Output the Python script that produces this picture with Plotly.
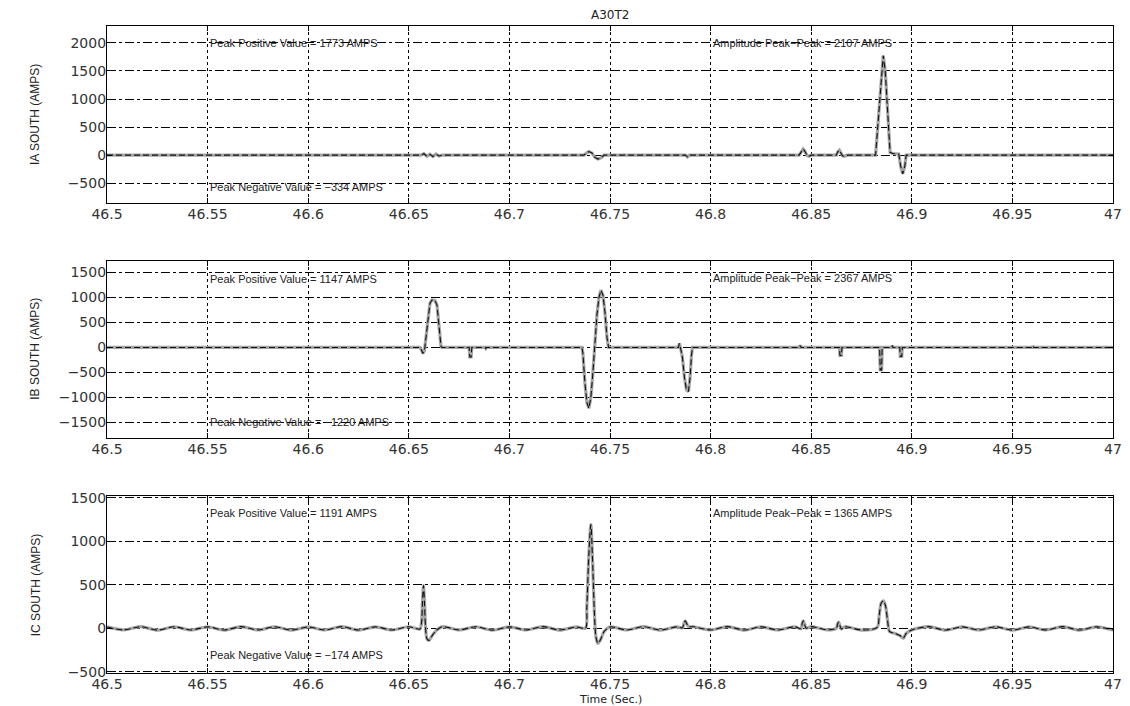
import plotly.graph_objects as go

# ---------------- data ----------------
x_ticks = [46.5, 46.55, 46.6, 46.65, 46.7, 46.75, 46.8, 46.85, 46.9, 46.95, 47.0]
x_tick_labels = ["46.5", "46.55", "46.6", "46.65", "46.7", "46.75", "46.8", "46.85", "46.9", "46.95", "47"]

ia_ticks = [-500, 0, 500, 1000, 1500, 2000]
ib_ticks = [-1500, -1000, -500, 0, 500, 1000, 1500]
ic_ticks = [-500, 0, 500, 1000, 1500]

ia_t = [46.5000, 46.6560, 46.6575, 46.6590, 46.6605, 46.6620, 46.6635, 46.6650, 46.6665,
        46.7370, 46.7385, 46.7395, 46.7410, 46.7425, 46.7440, 46.7455, 46.7470,
        46.7875, 46.7885, 46.7895,
        46.8440, 46.8450, 46.8460, 46.8470, 46.8480, 46.8490, 46.8500,
        46.8625, 46.8632, 46.8640, 46.8648, 46.8655, 46.8665, 46.8680,
        46.8820, 46.8835, 46.8848, 46.8858, 46.8868, 46.8880, 46.8892, 46.8905,
        46.8935, 46.8945, 46.8955, 46.8965, 46.8972, 47.0000]
ia_v = [0, 0, 25, -20, 15, -25, 20, -15, 0,
        0, 40, 65, 40, -40, -70, -50, 0,
        0, -30, 0,
        0, 60, 110, 60, -10, -20, 0,
        0, 60, 90, 40, -10, -20, 0,
        0, 700, 1450, 1773, 1500, 700, 50, 30,
        20, -200, -334, -200, 0, 0]

ib_t = [46.5000, 46.5200, 46.5205, 46.5210,
        46.6555, 46.6562, 46.6570, 46.6578, 46.6585, 46.6595, 46.6605, 46.6615, 46.6630,
        46.6640, 46.6650, 46.6660, 46.6665,
        46.6800, 46.6803, 46.6810, 46.6813, 46.6880, 46.6883, 46.6887,
        46.7360, 46.7365, 46.7375, 46.7385, 46.7395, 46.7405, 46.7415, 46.7425, 46.7435,
        46.7445, 46.7455, 46.7465, 46.7475, 46.7485, 46.7493,
        46.7840, 46.7845, 46.7850, 46.7860, 46.7870, 46.7880, 46.7890, 46.7898, 46.7905, 46.7910,
        46.8440, 46.8445, 46.8450,
        46.8640, 46.8643, 46.8650, 46.8653,
        46.8840, 46.8843, 46.8850, 46.8853,
        46.8900, 46.8903, 46.8906,
        46.8940, 46.8943, 46.8950, 46.8953,
        46.9600, 46.9603, 46.9606, 47.0000]
ib_v = [0, 0, -15, 0,
        0, -40, -120, -60, 200, 600, 880, 950, 940,
        850, 400, 20, 0,
        0, -190, -190, 0, 0, -20, 0,
        0, -100, -700, -1100, -1220, -1000, -500, 100, 650,
        1000, 1147, 1050, 700, 200, 0,
        0, 80, 0, -200, -600, -850, -880, -600, -150, 0,
        0, 40, 0,
        0, -160, -160, 0,
        0, -450, -450, 0,
        0, 40, 0,
        0, -180, -180, 0,
        0, 30, 0, 0]

ic_t = [46.5000, 46.5083, 46.5167, 46.5250, 46.5333, 46.5417, 46.5500, 46.5583, 46.5667,
        46.5750, 46.5833, 46.5917, 46.6000, 46.6083, 46.6167, 46.6250, 46.6333, 46.6417,
        46.6500, 46.6555, 46.6563, 46.6568, 46.6573, 46.6578, 46.6583, 46.6590, 46.6600,
        46.6615, 46.6635, 46.6667, 46.6750, 46.6833, 46.6917, 46.7000, 46.7083, 46.7167,
        46.7250, 46.7333, 46.7378, 46.7385, 46.7395, 46.7405, 46.7413, 46.7422, 46.7430,
        46.7440, 46.7455, 46.7470, 46.7500, 46.7583, 46.7667, 46.7750, 46.7833, 46.7860,
        46.7868, 46.7874, 46.7882, 46.7890, 46.7917, 46.8000, 46.8083, 46.8167, 46.8250,
        46.8333, 46.8417, 46.8450, 46.8455, 46.8461, 46.8468, 46.8475, 46.8500, 46.8583,
        46.8625, 46.8631, 46.8636, 46.8642, 46.8650, 46.8667, 46.8750, 46.8828, 46.8838,
        46.8848, 46.8859, 46.8870, 46.8880, 46.8890, 46.8917, 46.8945, 46.8958, 46.8972,
        46.9000, 46.9083, 46.9167, 46.9250, 46.9333, 46.9417, 46.9500, 46.9583, 46.9667,
        46.9750, 46.9833, 46.9917, 47.0000]
ic_v = [15, -20, 18, -22, 17, -20, 16, -21, 18,
        -20, 17, -22, 15, -20, 18, -21, 16, -20,
        17, -10, 60, 300, 490, 300, 20, -120, -140,
        -90, -30, 18, -20, 17, -22, 16, -20, 18,
        -21, 15, 0, 250, 850, 1191, 800, 200, -100,
        -174, -120, -40, 15, -20, 18, -21, 16, 5,
        60, 85, 50, 20, 17, -20, 18, -21, 16,
        -20, 17, -5, 55, 85, 40, 0, 18, -20,
        0, 50, 70, 35, -10, 17, -21, 10, 150,
        290, 316, 250, 80, -40, -60, -90, -114, -60,
        -20, 18, -21, 16, -20, 17, -22, 15, -20,
        18, -21, 16, -20]

peak_pos = [1773, 1147, 1191]
peak_neg = [-334, -1220, -174]
peak_pp = [2107, 2367, 1365]
y_labels = ["IA SOUTH (AMPS)", "IB SOUTH (AMPS)", "IC SOUTH (AMPS)"]
pos_text_y = [2000, 1380, 1320]
neg_text_y = [-560, -1500, -305]
pp_text_y = [2000, 1390, 1320]

# ---------------- figure ----------------
# the page body adds an 8px offset, so the figure is 8px smaller than the window
W, H = 1122, 698
fig = go.Figure()

series = [(ia_t, ia_v), (ib_t, ib_v), (ic_t, ic_v)]
for i, (t, v) in enumerate(series):
    sfx = "" if i == 0 else str(i + 1)
    shape = "spline" if i == 2 else "linear"
    fig.add_trace(go.Scatter(x=t, y=v, mode="lines", xaxis="x" + sfx, yaxis="y" + sfx,
                             line=dict(color="#a5a5a5", width=3.2, shape=shape, smoothing=0.8),
                             showlegend=False, hoverinfo="skip"))
    fig.add_trace(go.Scatter(x=t, y=v, mode="lines", xaxis="x" + sfx, yaxis="y" + sfx,
                             line=dict(color="#111111", width=1.1, dash="6px,3px",
                                       shape=shape, smoothing=0.8),
                             showlegend=False, hoverinfo="skip"))

tick_font = dict(family="DejaVu Sans, Arial, sans-serif", size=14, color="#333333")
ydomains = [[0.7266, 1.0], [0.3635, 0.6374], [0.0, 0.2728]]
yranges = [[-850, 2300], [-1810, 1740], [-515, 1515]]
yticks = [ia_ticks, ib_ticks, ic_ticks]

layout = dict(
    width=W, height=H,
    margin=dict(l=98.5, r=17, t=18, b=33, autoexpand=False),
    paper_bgcolor="white", plot_bgcolor="white",
    showlegend=False,
)
for i in range(3):
    sfx = "" if i == 0 else str(i + 1)
    layout["xaxis" + sfx] = dict(
        domain=[0, 1], anchor="y" + sfx, range=[46.5, 47.0],
        tickvals=x_ticks, ticktext=x_tick_labels, tickfont=tick_font,
        showgrid=True, gridcolor="black", gridwidth=1.2, griddash="dot",
        showline=True, linecolor="black", linewidth=1.2, mirror="allticks",
        ticks="inside", ticklen=5, tickcolor="black", zeroline=False,
        ticklabelstandoff=-2,
    )
    layout["yaxis" + sfx] = dict(
        domain=ydomains[i], anchor="x" + sfx, range=yranges[i],
        tickvals=yticks[i], ticktext=[str(v).replace("-", "\u2212") for v in yticks[i]],
        tickfont=tick_font,
        showgrid=True, gridcolor="black", gridwidth=1, griddash="dashdot",
        showline=True, linecolor="black", linewidth=1.2, mirror="allticks",
        ticks="inside", ticklen=5, tickcolor="black", zeroline=False,
        ticklabelstandoff=-3,
    )
fig.update_layout(**layout)

ann_font = dict(family="Liberation Sans, Arial, sans-serif", size=11, color="#222222")
for i in range(3):
    sfx = "" if i == 0 else str(i + 1)
    fig.add_annotation(x=46.55, y=pos_text_y[i], xref="x" + sfx, yref="y" + sfx,
                       text=f"Peak Positive Value = {peak_pos[i]} AMPS", showarrow=False,
                       xanchor="left", yanchor="middle", font=ann_font)
    fig.add_annotation(x=46.55, y=neg_text_y[i], xref="x" + sfx, yref="y" + sfx,
                       text=f"Peak Negative Value = \u2212{abs(peak_neg[i])} AMPS", showarrow=False,
                       xanchor="left", yanchor="middle", font=ann_font)
    fig.add_annotation(x=46.8, y=pp_text_y[i], xref="x" + sfx, yref="y" + sfx,
                       text=f"Amplitude Peak\u2212Peak = {peak_pp[i]} AMPS", showarrow=False,
                       xanchor="left", yanchor="middle", font=ann_font)
    d = ydomains[i]
    fig.add_annotation(x=-0.071, y=(d[0] + d[1]) / 2, xref="paper", yref="paper",
                       text=y_labels[i], textangle=-90, showarrow=False,
                       xanchor="center", yanchor="middle",
                       font=dict(family="Liberation Sans Narrow, Liberation Sans, Arial, sans-serif",
                                 size=12, color="#222222"))

fig.add_annotation(x=0.5, y=1.0, xref="paper", yref="paper", yshift=11,
                   text="A30T2", showarrow=False, xanchor="center", yanchor="middle",
                   font=dict(family="DejaVu Sans, Arial, sans-serif", size=12, color="#222222"))
fig.add_annotation(x=0.5, y=0.0, xref="paper", yref="paper", yshift=-26,
                   text="Time (Sec.)", showarrow=False, xanchor="center", yanchor="middle",
                   font=dict(family="DejaVu Sans, Arial, sans-serif", size=11, color="#222222"))

fig.write_html("out.html")
